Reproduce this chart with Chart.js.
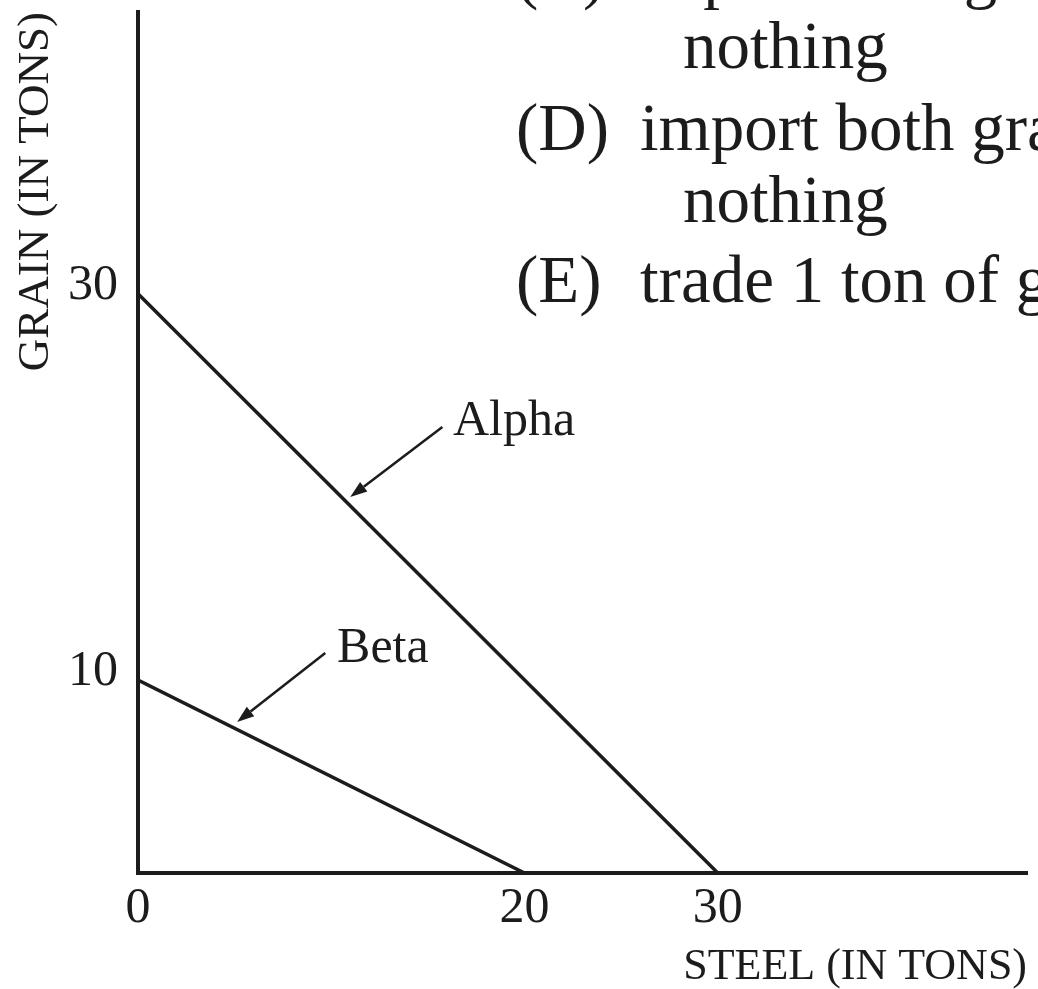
<!DOCTYPE html>
<html>
<head>
<meta charset="utf-8">
<title>Production possibilities: Alpha and Beta</title>
<script src="https://cdn.jsdelivr.net/npm/chart.js@4.4.1/dist/chart.umd.min.js"></script>
<style>
    html, body { margin: 0; padding: 0; background: #ffffff; overflow: hidden; }
    #wrap { position: relative; width: 1038px; height: 989px; }
</style>
</head>
<body>
<div id="wrap"><canvas id="ppf-chart"></canvas></div>
<script>
// Production possibility frontiers (tons of steel vs tons of grain)
const steelTicks = [0, 20, 30];
const grainTicks = [10, 30];

const alphaSteel = [0, 30];
const alphaGrain = [30, 0];
const betaSteel = [0, 20];
const betaGrain = [10, 0];

const curveNames = ['Alpha', 'Beta'];

// Answer choices printed above the graph
const choiceLabels = ['(C)', '', '(D)', '', '(E)'];
const choiceTexts = [
    'export both grain and steel and import',
    'nothing',
    'import both grain and steel and export',
    'nothing',
    'trade 1 ton of grain for 1 ton of steel'
];

const INK = '#1c1c1c';
const SERIF = '"Liberation Serif", "Times New Roman", serif';

function toPoints(xs, ys) {
    return xs.map((x, i) => ({ x: x, y: ys[i] }));
}

// Callouts: label position and arrow, given in data units
const callouts = [
    { text: curveNames[0], at: [16.3, 22.7], from: [15.75, 23.1], to: [10.98, 19.48] },
    { text: curveNames[1], at: [10.3, 10.93], from: [9.69, 11.4], to: [5.13, 7.82] }
];

const calloutPlugin = {
    id: 'callouts',
    afterDatasetsDraw(chart) {
        const ctx = chart.ctx;
        const xs = chart.scales.x;
        const ys = chart.scales.y;
        ctx.save();
        ctx.fillStyle = INK;
        ctx.strokeStyle = INK;
        ctx.lineWidth = 2.5;
        ctx.font = '50px ' + SERIF;
        ctx.textBaseline = 'alphabetic';
        ctx.textAlign = 'left';
        callouts.forEach(c => {
            ctx.fillText(c.text, xs.getPixelForValue(c.at[0]), ys.getPixelForValue(c.at[1]));

            const x1 = xs.getPixelForValue(c.from[0]);
            const y1 = ys.getPixelForValue(c.from[1]);
            const x2 = xs.getPixelForValue(c.to[0]);
            const y2 = ys.getPixelForValue(c.to[1]);
            const ang = Math.atan2(y2 - y1, x2 - x1);
            const headLen = 17;
            const headHalf = 6;
            const bx = x2 - headLen * Math.cos(ang);
            const by = y2 - headLen * Math.sin(ang);

            ctx.beginPath();
            ctx.moveTo(x1, y1);
            ctx.lineTo(bx, by);
            ctx.stroke();

            ctx.beginPath();
            ctx.moveTo(x2, y2);
            ctx.lineTo(bx + headHalf * Math.sin(ang), by - headHalf * Math.cos(ang));
            ctx.lineTo(bx - headHalf * Math.sin(ang), by + headHalf * Math.cos(ang));
            ctx.closePath();
            ctx.fill();
        });
        ctx.restore();
    }
};

// Question text block in the upper right, runs off the edge of the page
const choicesPlugin = {
    id: 'choices',
    afterDraw(chart) {
        const ctx = chart.ctx;
        const baselines = [-4, 68, 150, 222, 302];
        ctx.save();
        ctx.fillStyle = INK;
        ctx.font = '67px ' + SERIF;
        ctx.textBaseline = 'alphabetic';
        ctx.textAlign = 'left';
        choiceTexts.forEach((t, i) => {
            if (choiceLabels[i]) {
                ctx.fillText(choiceLabels[i], 516, baselines[i]);
                ctx.fillText(t, 640, baselines[i]);
            } else {
                ctx.fillText(t, 683, baselines[i]);
            }
        });
        ctx.restore();
    }
};

function initPpfChart() {
    const canvas = document.getElementById('ppf-chart');
    const ctx = canvas.getContext('2d');

    Chart.defaults.font.family = SERIF;
    Chart.defaults.color = INK;

    new Chart(ctx, {
        type: 'scatter',
        data: {
            datasets: [
                {
                    label: curveNames[0],
                    data: toPoints(alphaSteel, alphaGrain),
                    showLine: true,
                    borderColor: INK,
                    borderWidth: 3.5,
                    pointRadius: 0,
                    fill: false,
                    tension: 0
                },
                {
                    label: curveNames[1],
                    data: toPoints(betaSteel, betaGrain),
                    showLine: true,
                    borderColor: INK,
                    borderWidth: 3.5,
                    pointRadius: 0,
                    fill: false,
                    tension: 0
                }
            ]
        },
        options: {
            responsive: true,
            maintainAspectRatio: false,
            animation: false,
            devicePixelRatio: 1,
            layout: {
                padding: { top: 12, right: 11, left: 0, bottom: 0 }
            },
            plugins: {
                legend: { display: false },
                tooltip: { enabled: false }
            },
            scales: {
                x: {
                    type: 'linear',
                    position: 'bottom',
                    min: 0,
                    max: 46,
                    grid: { display: false, drawTicks: false },
                    border: { display: true, color: INK, width: 4 },
                    afterBuildTicks: scale => {
                        scale.ticks = steelTicks.map(v => ({ value: v }));
                    },
                    afterFit: scale => {
                        scale.height = 116;
                        scale.paddingLeft = 0;
                        scale.paddingRight = 0;
                    },
                    ticks: {
                        color: INK,
                        padding: 6,
                        maxRotation: 0,
                        autoSkip: false,
                        font: { size: 50 }
                    },
                    title: {
                        display: true,
                        text: 'STEEL (IN TONS)',
                        align: 'end',
                        color: INK,
                        padding: 0,
                        font: { size: 44, lineHeight: 1 }
                    }
                },
                y: {
                    type: 'linear',
                    min: 0,
                    max: 44.6,
                    grid: { display: false, drawTicks: false },
                    border: { display: true, color: INK, width: 4 },
                    afterBuildTicks: scale => {
                        scale.ticks = grainTicks.map(v => ({ value: v }));
                    },
                    afterFit: scale => {
                        scale.width = 138;
                        scale.paddingTop = 0;
                        scale.paddingBottom = 0;
                    },
                    ticks: {
                        color: INK,
                        padding: 20,
                        labelOffset: -8,
                        autoSkip: false,
                        font: { size: 50 }
                    },
                    title: {
                        display: true,
                        text: 'GRAIN (IN TONS)',
                        align: 'end',
                        color: INK,
                        padding: { top: 14, bottom: 0 },
                        font: { size: 45, lineHeight: 1 }
                    }
                }
            }
        },
        plugins: [calloutPlugin, choicesPlugin]
    });
}

document.addEventListener('DOMContentLoaded', initPpfChart);
</script>
</body>
</html>
